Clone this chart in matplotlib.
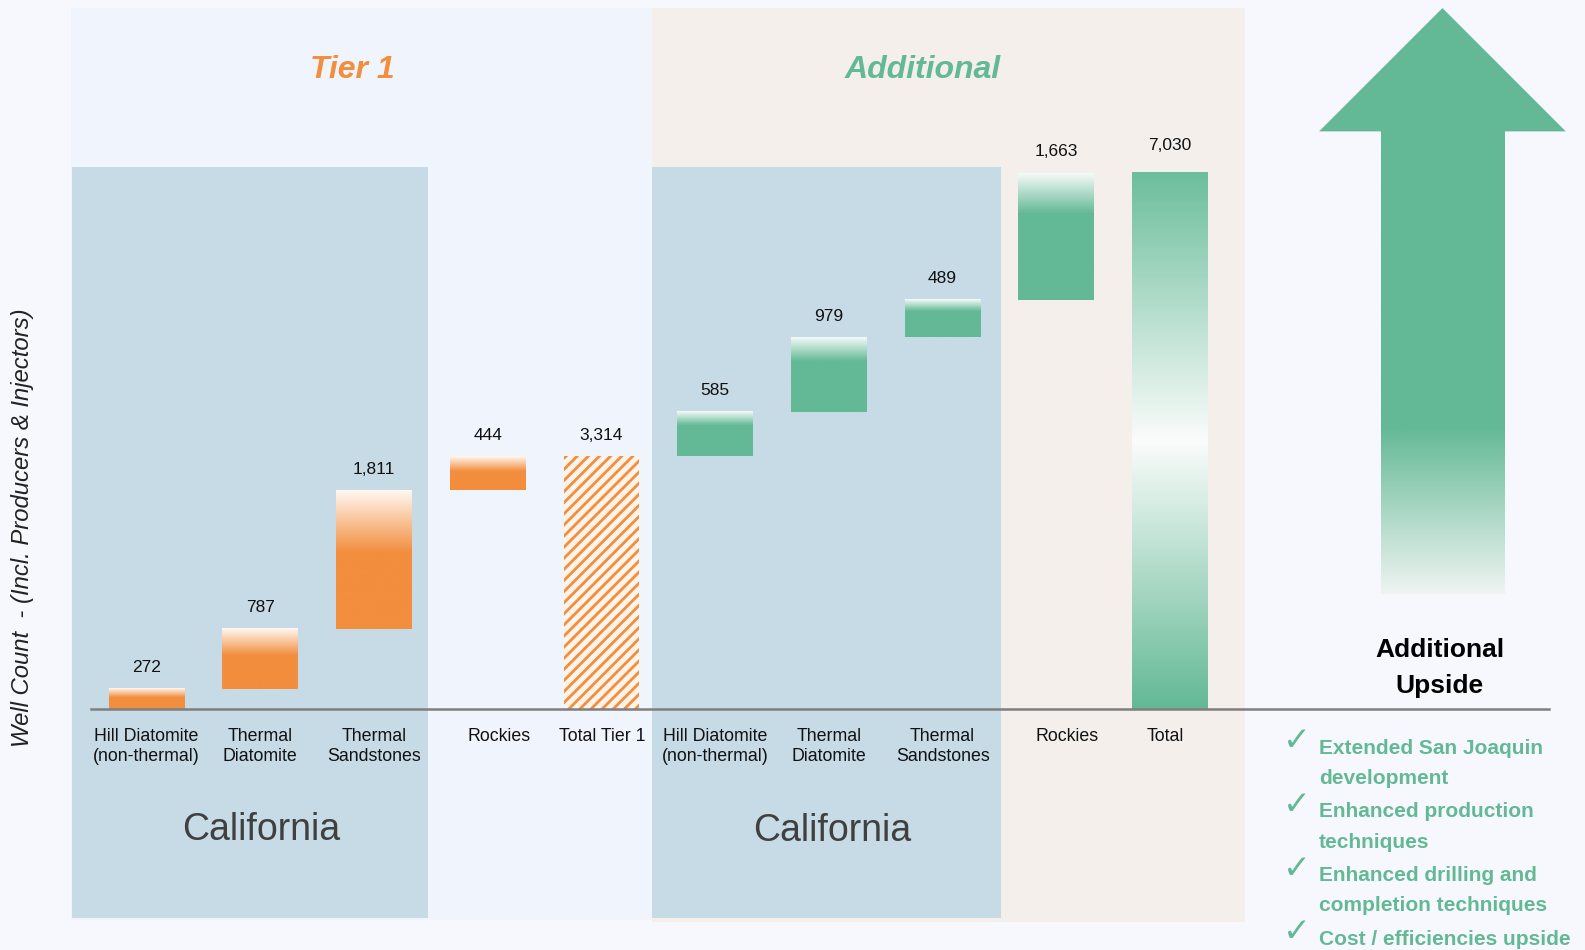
import numpy as np
import matplotlib.pyplot as plt
from matplotlib.colors import LinearSegmentedColormap
from matplotlib.patches import Rectangle, Polygon
from matplotlib.transforms import ScaledTranslation

# ---- data ----
categories = ["Hill Diatomite\n(non-thermal)", "Thermal\nDiatomite", "Thermal\nSandstones",
              "Rockies", "Total Tier 1",
              "Hill Diatomite\n(non-thermal)", "Thermal\nDiatomite", "Thermal\nSandstones",
              "Rockies", "Total"]
tier1_values = [272, 787, 1811, 444]
additional_values = [585, 979, 489, 1663]
upside_points = ["Extended San Joaquin\ndevelopment",
                 "Enhanced production\ntechniques",
                 "Enhanced drilling and\ncompletion techniques",
                 "Cost / efficiencies upside"]

ORANGE = "#F28E3D"
GREEN = "#63B995"
FONT = "Liberation Sans"

plt.rcParams["font.family"] = [FONT, "DejaVu Sans"]
plt.rcParams["hatch.linewidth"] = 2.0

W, H = 1568, 940  # layout units (reference pixels)
fig = plt.figure(figsize=(15.85, 9.5), dpi=100)
fig.patch.set_facecolor("#F6F8FD")

# background axes in layout units
bg = fig.add_axes([0, 0, 1, 1], zorder=0)
bg.set_xlim(0, W)
bg.set_ylim(H, 0)
bg.axis("off")
bg.set_autoscale_on(False)


def box(x0, y0, x1, y1, color):
    bg.add_patch(Rectangle((x0, y0), x1 - x0, y1 - y0, facecolor=color, edgecolor="none"))


box(70, 8, 645, 910, "#F0F4FC")
box(645, 8, 1232, 912, "#F4EFEB")
box(71, 165, 423, 908, "#C6DBE5")
box(645, 165, 990, 908, "#C6DBE5")

bg.text(349, 69, "Tier 1", color=ORANGE, fontsize=23, fontweight="bold",
        fontstyle="italic", ha="center", va="center")
bg.text(913, 69, "Additional", color=GREEN, fontsize=23, fontweight="bold",
        fontstyle="italic", ha="center", va="center")
bg.text(258, 821, "California", color="#404040", fontsize=27, ha="center", va="center")
bg.text(823, 822, "California", color="#404040", fontsize=27, ha="center", va="center")

bg.text(22, 522, "Well Count  - (Incl. Producers & Injectors)", rotation=90,
        fontsize=17.2, fontstyle="italic", color="#222222", ha="center", va="center")

# big up arrow
bg.add_patch(Polygon([(1305, 130), (1427, 8), (1549, 130)], closed=True,
                     facecolor=GREEN, edgecolor="none"))
arrow_cmap = LinearSegmentedColormap.from_list(
    "arrow", [(0, "#EFF4F2"), (0.36, GREEN), (1, GREEN)])
bg.imshow(np.linspace(0, 1, 256).reshape(-1, 1), extent=(1366, 1488, 588, 130),
          origin="lower", aspect="auto", cmap=arrow_cmap, zorder=1)
bg.set_xlim(0, W)
bg.set_ylim(H, 0)

bg.text(1424, 661, "Additional\nUpside", fontsize=19, fontweight="bold", color="black",
        ha="center", va="center", linespacing=1.6)

for i, item in enumerate(upside_points):
    y = 743 + 63 * i
    bg.text(1283, y - 10, "\u2713", fontsize=24, color=GREEN, family="DejaVu Sans",
            ha="center", va="center")
    bg.text(1305, y - 12, item, fontsize=15, fontweight="bold", color=GREEN,
            ha="left", va="top", linespacing=1.75)

# ---- chart axes ----
step = 112.5
x_first = 145
ax_left, ax_right, ax_top, ax_base = 90, 1532, 8, 702
ax = fig.add_axes([ax_left / W, 1 - ax_base / H, (ax_right - ax_left) / W,
                   (ax_base - ax_top) / H], zorder=2)
ax.patch.set_alpha(0)
px_per_unit = (702 - 171) / 7030
xlim = ((ax_left - x_first) / step, (ax_right - x_first) / step)
ylim = (0, (ax_base - ax_top) / px_per_unit)

tier1_total = sum(tier1_values)
grand_total = tier1_total + sum(additional_values)
heights = tier1_values + [tier1_total] + additional_values + [grand_total]
bottoms = list(np.cumsum([0] + tier1_values[:-1])) + [0] + \
    list(tier1_total + np.cumsum([0] + additional_values[:-1])) + [0]
x = np.arange(len(categories))
bw = 75 / step

bars = ax.bar(x, heights, bottom=bottoms, width=bw, color="none", edgecolor="none")

orange_cmap = LinearSegmentedColormap.from_list(
    "og", [(0, ORANGE), (0.55, ORANGE), (1, "#FFF8F2")])
green_cmap = LinearSegmentedColormap.from_list(
    "gg", [(0, GREEN), (0.68, GREEN), (1, "#F6FBF8")])
total_cmap = LinearSegmentedColormap.from_list(
    "tg", [(0, GREEN), (0.5, "#FAFCFB"), (1, "#6CBE9C")])
grad = np.linspace(0, 1, 256).reshape(-1, 1)

for i, b in enumerate(bars):
    x0, y0 = b.get_x(), b.get_y()
    x1, y1 = x0 + b.get_width(), y0 + b.get_height()
    if i == 4:
        ax.bar(x[i], heights[i], bottom=0, width=bw, facecolor="#FFF3EA",
               edgecolor=ORANGE, hatch="///", linewidth=0)
        continue
    if i < 4:
        cmap = orange_cmap
    elif i == 9:
        cmap = total_cmap
    else:
        cmap = green_cmap
    ax.imshow(grad, extent=(x0, x1, y0, y1), origin="lower", aspect="auto",
              cmap=cmap, zorder=2)

for i in range(len(categories)):
    top = bottoms[i] + heights[i]
    off = 20 if i == 9 else 15
    ax.annotate(f"{heights[i]:,}", (x[i], top), xytext=(0, off),
                textcoords="offset points", ha="center", va="center",
                fontsize=12.5, color="#111111")

ax.set_xlim(*xlim)
ax.set_ylim(*ylim)
ax.set_xticks(x, categories, fontsize=12.8, color="#111111")
ax.tick_params(axis="x", length=0, pad=13.5)
label_shift = {3: 11, 4: 1, 8: 11, 9: -5}  # px nudges of a few tick labels
for i, lab in enumerate(ax.get_xticklabels()):
    lab.set_linespacing(1.25)
    if i in label_shift:
        lab.set_transform(lab.get_transform() +
                          ScaledTranslation(label_shift[i] / 100, 0, fig.dpi_scale_trans))
ax.set_yticks([])
for s in ["top", "right", "left"]:
    ax.spines[s].set_visible(False)
ax.spines["bottom"].set_color("#7F7F7F")
ax.spines["bottom"].set_linewidth(1.8)

fig.savefig("out.png", dpi=100, facecolor=fig.get_facecolor())
